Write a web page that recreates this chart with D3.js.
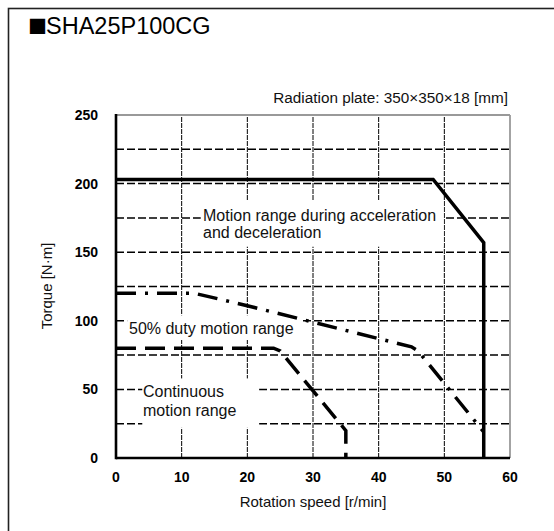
<!DOCTYPE html>
<html><head><meta charset="utf-8">
<script src="https://cdn.jsdelivr.net/npm/d3@7"></script>
<style>
html,body{margin:0;padding:0;background:#fff;}
svg{display:block;font-family:"Liberation Sans",Arial,sans-serif;}
</style></head>
<body><svg id="c" width="554" height="531"></svg>
<script>
const xTicks=[0,10,20,30,40,50,60];
const yTicks=[0,50,100,150,200,250];
const yGrid=[25,50,75,100,125,150,175,200,225];
const xGrid=[10,20,30,40,50];
const accelSpeed=[0,48.3,56,56];
const accelTorque=[203,203,157,0];
const dutySpeed=[0,12,20,30,40,45,46,56];
const dutyTorque=[120,120,111,99,87,81,78,19];
const contSpeed=[0,24,25,35,35];
const contTorque=[80,80,78,20,0];

const svg=d3.select("#c");
const x=d3.scaleLinear().domain([0,60]).range([116,510]);
const y=d3.scaleLinear().domain([0,250]).range([458,115]);

// outer frame
svg.append("rect").attr("x",8.5).attr("y",8.5).attr("width",700).attr("height",700)
  .attr("fill","none").attr("stroke","#222").attr("stroke-width",1.6);

const t=svg.append("text").attr("x",28).attr("y",34).attr("fill","#000");
t.append("tspan").attr("font-family","'Noto Sans CJK JP'").attr("font-size",19).text("■");
t.append("tspan").attr("font-size",23.5).attr("dx",-1).text("SHA25P100CG");
svg.append("text").attr("x",508).attr("y",103).attr("text-anchor","end").attr("font-size",15.3).attr("fill","#111")
  .text("Radiation plate: 350×350×18 [mm]");

// grid
svg.append("g").selectAll("line").data(yGrid).join("line")
  .attr("x1",x(0)).attr("x2",x(60)).attr("y1",d=>y(d)).attr("y2",d=>y(d))
  .attr("stroke","#000").attr("stroke-width",1.5).attr("stroke-dasharray","8,3");
svg.append("g").selectAll("line").data(xGrid).join("line")
  .attr("x1",d=>x(d)).attr("x2",d=>x(d)).attr("y1",y(0)).attr("y2",y(250))
  .attr("stroke","#000").attr("stroke-width",1).attr("stroke-dasharray","5,1");

// border top/right gray
svg.append("line").attr("x1",x(0)).attr("x2",x(60)).attr("y1",y(250)).attr("y2",y(250)).attr("stroke","#999").attr("stroke-width",1.8);
svg.append("line").attr("x1",x(60)).attr("x2",x(60)).attr("y1",y(250)).attr("y2",y(0)).attr("stroke","#999").attr("stroke-width",1.8);

// label boxes
const boxes=[
  {x0:12.9,x1:49.9,y0:188,y1:154},
  {x0:1.7,x1:28.1,y0:104,y1:86},
  {x0:4,x1:21.8,y0:58,y1:22}
];
svg.append("g").selectAll("rect").data(boxes).join("rect")
  .attr("x",d=>x(d.x0)).attr("y",d=>y(d.y0)).attr("width",d=>x(d.x1)-x(d.x0)).attr("height",d=>y(d.y1)-y(d.y0))
  .attr("fill","#fff");

// axes lines
svg.append("line").attr("x1",x(0)).attr("x2",x(0)).attr("y1",y(250)-1).attr("y2",y(0)+1.2).attr("stroke","#000").attr("stroke-width",2.6);
svg.append("line").attr("x1",x(0)).attr("x2",x(60)).attr("y1",y(0)).attr("y2",y(0)).attr("stroke","#000").attr("stroke-width",2.6);

const line=d3.line().x(d=>x(d[0])).y(d=>y(d[1]));
svg.append("path").attr("d",line(contSpeed.map((s,i)=>[s,contTorque[i]])))
  .attr("fill","none").attr("stroke","#000").attr("stroke-width",3.5).attr("stroke-dasharray","20,9");
svg.append("path").attr("d",line(dutySpeed.map((s,i)=>[s,dutyTorque[i]])))
  .attr("fill","none").attr("stroke","#000").attr("stroke-width",3.5).attr("stroke-dasharray","20,9,3,9");
svg.append("path").attr("d",line(accelSpeed.map((s,i)=>[s,accelTorque[i]])))
  .attr("fill","none").attr("stroke","#000").attr("stroke-width",3.5).attr("stroke-linejoin","miter");

// labels
const lab=svg.append("g").attr("font-size",16).attr("fill","#111");
lab.append("text").attr("x",203).attr("y",221).text("Motion range during acceleration");
lab.append("text").attr("x",203).attr("y",238).text("and deceleration");
lab.append("text").attr("x",129).attr("y",333.5).text("50% duty motion range");
lab.append("text").attr("x",143).attr("y",397).text("Continuous");
lab.append("text").attr("x",143).attr("y",415.5).text("motion range");

// tick labels
svg.append("g").selectAll("text").data(xTicks).join("text")
  .attr("x",d=>x(d)).attr("y",y(0)+24).attr("text-anchor","middle").attr("font-size",14).attr("font-weight","bold").text(d=>d);
svg.append("g").selectAll("text").data(yTicks).join("text")
  .attr("x",98).attr("y",d=>y(d)+5).attr("text-anchor","end").attr("font-size",14).attr("font-weight","bold").text(d=>d);

svg.append("text").attr("x",313).attr("y",507).attr("text-anchor","middle").attr("font-size",15).attr("fill","#111").text("Rotation speed [r/min]");
svg.append("text").attr("transform","translate(52,286) rotate(-90)").attr("text-anchor","middle").attr("font-size",15).attr("fill","#111").text("Torque [N·m]");
</script></body></html>
